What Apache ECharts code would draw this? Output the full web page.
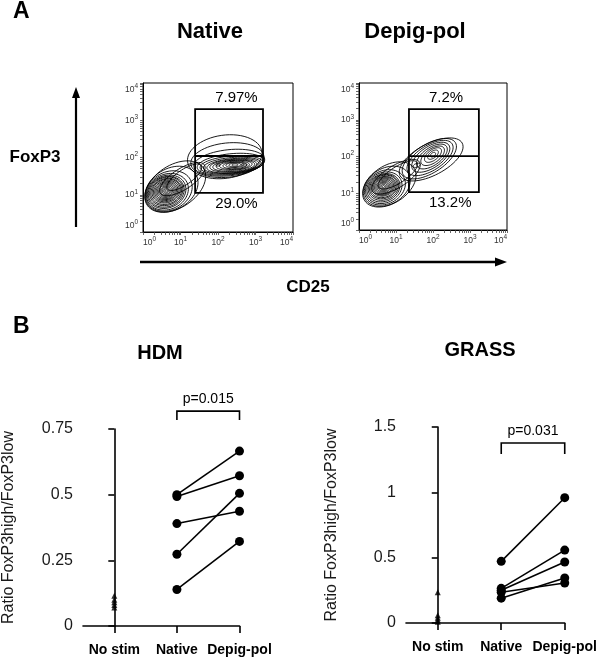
<!DOCTYPE html>
<html><head><meta charset="utf-8">
<script src="https://cdn.jsdelivr.net/npm/echarts@6/dist/echarts.min.js"></script>
<style>html,body{margin:0;padding:0;background:#fff}#c{width:600px;height:658px}</style>
</head><body><div id="c"></div>
<script>
const FONT = 'Arial, "Liberation Sans", Helvetica, sans-serif';

// ---------- Panel B data ----------
const categories = ['No stim', 'Native', 'Depig-pol'];
const hdmNoStim   = [0.115, 0.10, 0.09, 0.08, 0.07];
const hdmNative   = [0.50, 0.493, 0.39, 0.273, 0.139];
const hdmDepig    = [0.666, 0.572, 0.437, 0.505, 0.322];
const grassNoStim = [0.235, 0.06, 0.04, 0.025, 0.01];
const grassNative = [0.472, 0.265, 0.25, 0.235, 0.19];
const grassDepig  = [0.959, 0.558, 0.467, 0.306, 0.344];
const hdmYTicks   = [0, 0.25, 0.5, 0.75];
const grassYTicks = [0, 0.5, 1, 1.5];
const hdmBracket   = [1, 2, 0.818, 0.784];   // x from, x to, top, leg end
const grassBracket = [1, 2, 1.377, 1.293];
const hdmP = 'p=0.015';
const grassP = 'p=0.031';

// ---------- Panel A data (log10 units) ----------
const flowDecades = [0, 1, 2, 3, 4];
const flowMultipliers = [1, 2, 3, 4, 5, 6, 7, 8, 9];
// contour lines: [centre x, centre y, radius x, radius y, tilt deg]
const nativeContours = [
  // CD25- population
  [0.62,1.10,0.035,0.03,20],[0.62,1.10,0.07,0.06,20],[0.62,1.10,0.105,0.09,20],
  [0.62,1.10,0.14,0.115,20],[0.62,1.10,0.175,0.14,20],[0.62,1.10,0.21,0.17,20],
  [0.62,1.10,0.245,0.20,20],[0.62,1.10,0.28,0.225,20],[0.62,1.10,0.315,0.25,20],
  [0.62,1.10,0.35,0.28,20],[0.62,1.10,0.385,0.31,20],[0.62,1.09,0.42,0.34,20],
  [0.62,1.09,0.455,0.37,22],[0.62,1.08,0.49,0.40,22],[0.63,1.08,0.53,0.43,24],
  [0.65,1.08,0.58,0.47,26],[0.69,1.10,0.65,0.51,28],[0.76,1.15,0.76,0.55,32],
  [0.86,1.22,0.90,0.57,34],
  // bridge
  [1.10,1.47,0.55,0.20,35],[1.05,1.42,0.70,0.28,33],
  // CD25+ population
  [2.45,1.80,0.08,0.03,3],[2.45,1.80,0.16,0.05,3],[2.45,1.80,0.24,0.07,3],
  [2.45,1.79,0.32,0.09,3],[2.44,1.79,0.40,0.11,3],[2.43,1.79,0.48,0.13,4],
  [2.42,1.78,0.56,0.15,4],[2.41,1.78,0.63,0.17,4],[2.40,1.78,0.70,0.19,5],
  [2.38,1.79,0.77,0.21,5],[2.36,1.80,0.84,0.24,5],[2.34,1.82,0.90,0.28,6],
  [2.30,1.86,0.95,0.35,6],[2.25,1.93,0.98,0.46,6],[2.18,2.02,1.00,0.58,8],
  [2.00,1.80,0.06,0.03,0],[2.70,1.80,0.08,0.03,0]
];
const depigContours = [
  // CD25- population
  [0.66,1.18,0.035,0.03,20],[0.66,1.18,0.07,0.06,20],[0.66,1.18,0.105,0.09,20],
  [0.66,1.18,0.14,0.115,20],[0.66,1.18,0.175,0.14,20],[0.66,1.18,0.21,0.17,20],
  [0.66,1.18,0.245,0.20,20],[0.66,1.18,0.28,0.225,20],[0.66,1.18,0.315,0.25,20],
  [0.66,1.17,0.35,0.28,20],[0.66,1.17,0.385,0.31,22],[0.66,1.16,0.42,0.34,22],
  [0.66,1.15,0.46,0.37,24],[0.67,1.15,0.51,0.41,26],[0.70,1.16,0.58,0.45,28],
  [0.75,1.19,0.68,0.49,31],[0.82,1.24,0.80,0.51,34],
  // bridge
  [1.05,1.50,0.62,0.22,33],[1.00,1.45,0.75,0.30,32],
  // CD25+ population
  [2.00,2.05,0.08,0.05,38],[2.00,2.05,0.17,0.09,38],[2.00,2.04,0.27,0.14,38],
  [1.99,2.02,0.37,0.19,36],[1.97,2.00,0.48,0.24,35],[1.94,1.98,0.59,0.29,34],
  [1.92,1.96,0.71,0.34,33],[1.90,1.94,0.83,0.39,32],[1.95,1.92,0.95,0.43,28],
  [1.56,1.76,0.10,0.05,20]
];
// gate: [x left, x right, y bottom, y split, y top]
const nativeGate = [1.39, 3.20, 1.05, 2.04, 3.30];
const depigGate  = [1.35, 3.24, 1.03, 2.01, 3.29];
const nativePct = ['7.97%', '29.0%'];
const depigPct  = ['7.2%', '13.2%'];

const flowTickValues = [];
flowDecades.forEach(d => { if (d < 4) flowMultipliers.forEach(m => flowTickValues.push(d + Math.log10(m))); });
flowTickValues.push(4);

// ---------- helpers ----------
const supRich = { b: { fontSize: 8.5, color: '#333', fontFamily: FONT }, s: { fontSize: 6.5, color: '#333', fontFamily: FONT, padding: [0, 0, 6, 0] } };
function flowX(gi) {
  return {
    type: 'value', gridIndex: gi, min: 0, max: 4,
    axisLine: { show: true, onZero: false, lineStyle: { color: '#000', width: 1 } },
    splitLine: { show: false },
    axisTick: { show: true, customValues: flowTickValues, length: 3, lineStyle: { color: '#444', width: 0.8 } },
    axisLabel: { customValues: flowDecades, margin: 4, alignMinLabel: 'left', alignMaxLabel: 'right',
      formatter: v => '{b|10}{s|' + v + '}', rich: supRich }
  };
}
function flowY(gi) {
  return {
    type: 'value', gridIndex: gi, min: 0, max: 4,
    axisLine: { show: true, onZero: false, lineStyle: { color: '#000', width: 1 } },
    splitLine: { show: false },
    axisTick: { show: true, customValues: flowTickValues, length: 3, lineStyle: { color: '#444', width: 0.8 } },
    axisLabel: { customValues: flowDecades, margin: 5, verticalAlignMaxLabel: 'top', verticalAlignMinLabel: 'bottom',
      formatter: v => '{b|10}{s|' + v + '}', rich: supRich }
  };
}
function ellipseItem(params, api) {
  const cx = api.value(0), cy = api.value(1), rx = api.value(2), ry = api.value(3);
  const a = api.value(4) * Math.PI / 180;
  const pts = [];
  for (let k = 0; k < 60; k++) {
    const t = k / 60 * 2 * Math.PI;
    const ex = rx * Math.cos(t), ey = ry * Math.sin(t);
    pts.push(api.coord([cx + ex * Math.cos(a) - ey * Math.sin(a), cy + ex * Math.sin(a) + ey * Math.cos(a)]));
  }
  return { type: 'polygon', shape: { points: pts }, style: { fill: 'none', stroke: '#000', lineWidth: 0.9 } };
}
function gateSeries(gi, gate, pct) {
  return {
    type: 'custom', xAxisIndex: gi, yAxisIndex: gi, clip: false, z: 5,
    data: [gate],
    renderItem: (params, api) => {
      const tl = api.coord([api.value(0), api.value(4)]);
      const br = api.coord([api.value(1), api.value(2)]);
      const ms = api.coord([api.value(0), api.value(3)]);
      const me = api.coord([api.value(1), api.value(3)]);
      const ls = { stroke: '#000', lineWidth: 1.8, fill: 'none' };
      return { type: 'group', children: [
        { type: 'rect', shape: { x: tl[0], y: tl[1], width: br[0] - tl[0], height: br[1] - tl[1] }, style: ls },
        { type: 'line', shape: { x1: ms[0], y1: ms[1], x2: me[0], y2: me[1] }, style: ls },
        { type: 'text', x: tl[0] + 20, y: tl[1] - 11, style: { text: pct[0], fill: '#000', font: '15px ' + FONT, align: 'left', verticalAlign: 'middle' } },
        { type: 'text', x: tl[0] + 20, y: br[1] + 11, style: { text: pct[1], fill: '#000', font: '15px ' + FONT, align: 'left', verticalAlign: 'middle' } }
      ]};
    }
  };
}
function bX(gi) {
  return {
    type: 'value', gridIndex: gi, min: -0.5, max: 2,
    axisLine: { show: true, onZero: false, lineStyle: { color: '#000', width: 1.6 } },
    splitLine: { show: false },
    axisTick: { show: true, customValues: [0, 1, 2], length: 7, lineStyle: { color: '#000', width: 1.6 } },
    axisLabel: { customValues: [0, 1, 2], formatter: v => categories[v], margin: 17,
      fontSize: 14, fontWeight: 'bold', color: '#000', fontFamily: FONT }
  };
}
function bY(gi, ticks) {
  return {
    type: 'value', gridIndex: gi, min: ticks[0], max: ticks[ticks.length - 1], interval: ticks[1] - ticks[0],
    axisLine: { show: true, lineStyle: { color: '#000', width: 1.6 } },
    splitLine: { show: false },
    axisTick: { show: true, length: 6, lineStyle: { color: '#000', width: 1.6 } },
    axisLabel: { margin: 10, fontSize: 16, color: '#1a1a1a', fontFamily: FONT },
    name: 'Ratio FoxP3high/FoxP3low', nameLocation: 'middle', nameGap: 66,
    nameTextStyle: { fontSize: 16, color: '#1a1a1a', fontFamily: FONT }
  };
}
function pairSeries(gi, nat, dep) {
  return nat.map((v, i) => ({
    type: 'line', xAxisIndex: gi, yAxisIndex: gi,
    data: [[1, v], [2, dep[i]]],
    symbol: 'circle', symbolSize: 9, showSymbol: true,
    itemStyle: { color: '#000' }, lineStyle: { color: '#000', width: 1.6 },
    clip: false, silent: true, z: 3
  }));
}
function noStimSeries(gi, vals) {
  return {
    type: 'scatter', xAxisIndex: gi, yAxisIndex: gi,
    data: vals.map(v => [0, v]), symbol: 'triangle', symbolSize: 6,
    itemStyle: { color: '#000' }, clip: false, z: 4
  };
}
function bracketSeries(gi, br, label) {
  return {
    type: 'custom', xAxisIndex: gi, yAxisIndex: gi, clip: false,
    data: [br],
    renderItem: (params, api) => {
      const a = api.coord([api.value(0), api.value(3)]);
      const b = api.coord([api.value(0), api.value(2)]);
      const c = api.coord([api.value(1), api.value(2)]);
      const d = api.coord([api.value(1), api.value(3)]);
      return { type: 'group', children: [
        { type: 'polyline', shape: { points: [a, b, c, d] }, style: { stroke: '#000', lineWidth: 1.6, fill: 'none' } },
        { type: 'text', x: (b[0] + c[0]) / 2, y: b[1] - 12, style: { text: label, fill: '#000', font: '14px ' + FONT, align: 'center', verticalAlign: 'middle' } }
      ]};
    }
  };
}
function txt(text, x, y, size, bold, align) {
  return { type: 'text', x: x, y: y, style: { text: text, fill: '#000', font: (bold ? 'bold ' : '') + size + 'px ' + FONT, align: align || 'center', verticalAlign: 'middle' } };
}

const option = {
  animation: false,
  backgroundColor: '#fff',
  grid: [
    { left: 143, top: 83, width: 150, height: 149, show: true, borderColor: '#000', borderWidth: 1, backgroundColor: 'transparent' },
    { left: 359, top: 83, width: 148, height: 147, show: true, borderColor: '#000', borderWidth: 1, backgroundColor: 'transparent' },
    { left: 82, top: 429, width: 157.5, height: 197 },
    { left: 406, top: 427, width: 161, height: 196 }
  ],
  xAxis: [flowX(0), flowX(1), bX(2), bX(3)],
  yAxis: [flowY(0), flowY(1), bY(2, hdmYTicks), bY(3, grassYTicks)],
  series: [
    { type: 'custom', xAxisIndex: 0, yAxisIndex: 0, clip: true, data: nativeContours, renderItem: ellipseItem },
    { type: 'custom', xAxisIndex: 1, yAxisIndex: 1, clip: true, data: depigContours, renderItem: ellipseItem },
    gateSeries(0, nativeGate, nativePct),
    gateSeries(1, depigGate, depigPct),
    noStimSeries(2, hdmNoStim),
    ...pairSeries(2, hdmNative, hdmDepig),
    bracketSeries(2, hdmBracket, hdmP),
    noStimSeries(3, grassNoStim),
    ...pairSeries(3, grassNative, grassDepig),
    bracketSeries(3, grassBracket, grassP)
  ],
  graphic: [
    txt('A', 13, 12, 23, true, 'left'),
    txt('B', 13, 327, 23, true, 'left'),
    txt('Native', 210, 32, 22, true),
    txt('Depig-pol', 415, 32, 22, true),
    txt('FoxP3', 35, 157, 17, true),
    txt('CD25', 308, 287, 17, true),
    txt('HDM', 160, 353, 20, true),
    txt('GRASS', 480, 350, 20, true),
    { type: 'line', shape: { x1: 76, y1: 227, x2: 76, y2: 96 }, style: { stroke: '#000', lineWidth: 2.2 } },
    { type: 'polygon', shape: { points: [[76, 87], [72, 98], [80, 98]] }, style: { fill: '#000' } },
    { type: 'line', shape: { x1: 140, y1: 262, x2: 497, y2: 262 }, style: { stroke: '#000', lineWidth: 2.5 } },
    { type: 'polygon', shape: { points: [[507, 262], [495, 257.5], [495, 266.5]] }, style: { fill: '#000' } }
  ]
};
echarts.init(document.getElementById('c'), null, { renderer: 'canvas' }).setOption(option);
</script></body></html>
